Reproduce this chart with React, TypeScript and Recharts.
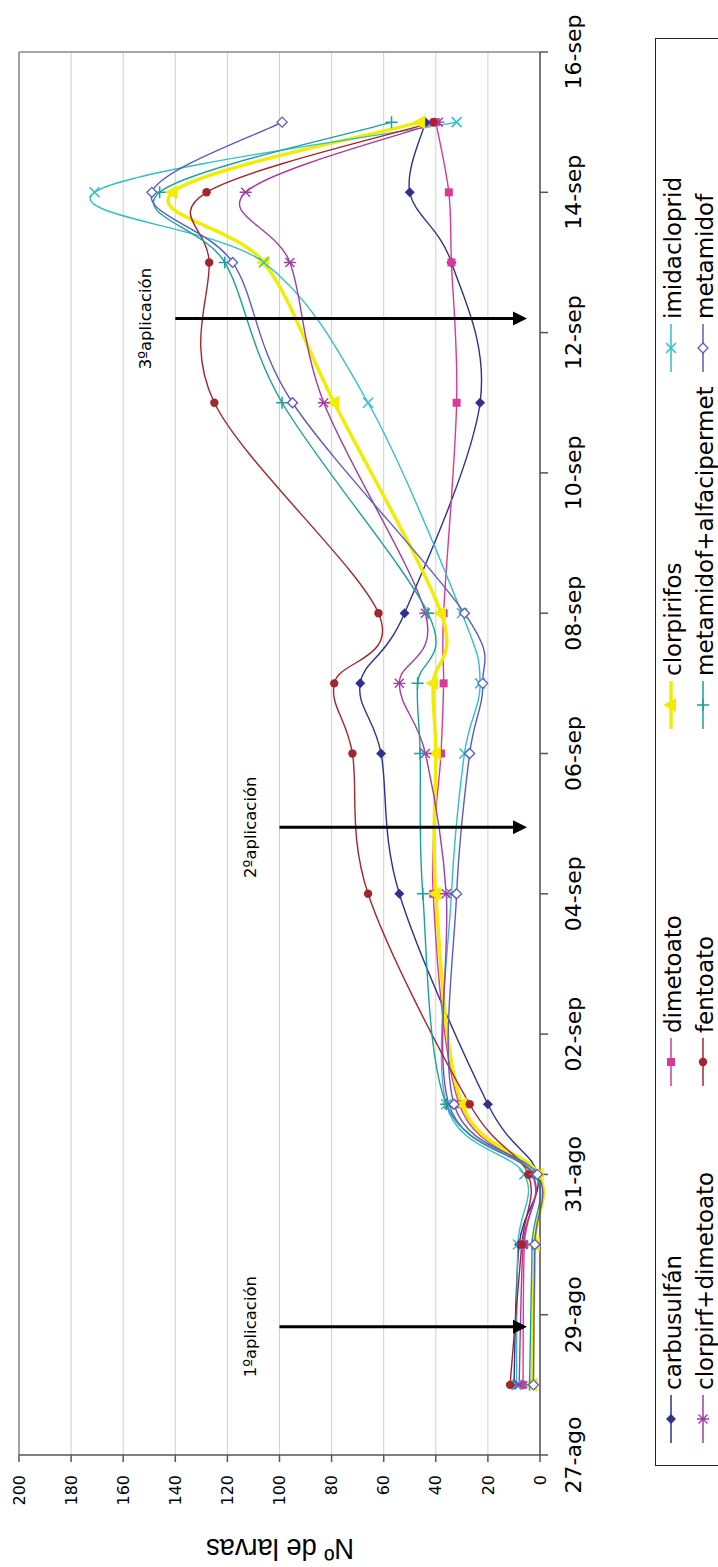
import { CartesianGrid, Legend, Line, LineChart, ReferenceLine, XAxis, YAxis } from "recharts"

// días desde el 27-ago
const DAYS = [1, 3, 4, 5, 8, 10, 11, 12, 15, 17, 18, 19]
const DATE_TICKS = ["27-ago", "29-ago", "31-ago", "02-sep", "04-sep", "06-sep", "08-sep", "10-sep", "12-sep", "14-sep", "16-sep"]
const VALUE_TICKS = [0, 20, 40, 60, 80, 100, 120, 140, 160, 180, 200]

const SERIES_NAMES = [
  "carbusulfán",
  "dimetoato",
  "clorpirifos",
  "imidacloprid",
  "clorpirf+dimetoato",
  "fentoato",
  "metamidof+alfacipermet",
  "metamidof",
]
const SERIES_COLORS = ["#2E3192", "#D9399A", "#F2EC00", "#2FBFCF", "#A33AA8", "#A4262C", "#16A2A0", "#5B5BC4"]
const SERIES_MARKERS = ["diamond", "square", "triangle", "cross", "star", "circle", "plus", "openDiamond"]

const carbusulfan = [10, 8, 1, 20, 54, 61, 69, 52, 23, 34, 50, 44]
const dimetoato = [6.5, 6, 3, 31, 41, 38, 37, 37, 32, 34, 35, 40]
const clorpirifos = [3, 2, 0.5, 30, 40, 40, 41, 38, 79, 106, 141, 46]
const imidacloprid = [9, 8.5, 6, 36, 34, 29, 23, 30, 66, 106, 171, 32]
const clorpirfDimetoato = [8, 6.5, 3, 35, 36, 44, 54, 44, 83, 96, 113, 39]
const fentoato = [11.5, 7, 4.5, 27, 66, 72, 79, 62, 125, 127, 128, 41]
const metamidofAlfa = [4, 3, 2, 36, 45, 46, 47, 43, 99, 121, 146, 57]
const metamidof = [2.5, 2, 1, 33, 32, 27, 22, 29, 95, 118, 149, 99]

const SERIES_VALUES = [carbusulfan, dimetoato, clorpirifos, imidacloprid, clorpirfDimetoato, fentoato, metamidofAlfa, metamidof]

const APPLICATIONS = ["1ºaplicación", "2ºaplicación", "3ºaplicación"]
const APPLICATION_DAYS = [1.83, 8.95, 16.2]
const APPLICATION_FROM = [100, 100, 140]
const APPLICATION_TO = 5

const FONT = "'DejaVu Sans', Verdana, sans-serif"

const data = DAYS.map((day, i) => {
  const row: Record<string, number> = { day }
  SERIES_VALUES.forEach((values, s) => {
    row[`s${s}`] = values[i]
  })
  return row
})

// suavizado tipo Excel (bezier tipo Catmull-Rom)
function excelSmooth(context: any) {
  let pts: number[][] = []
  return {
    areaStart() {},
    areaEnd() {},
    lineStart() {
      pts = []
    },
    point(x: number, y: number) {
      pts.push([+x, +y])
    },
    lineEnd() {
      const n = pts.length
      if (!n) return
      context.moveTo(pts[0][0], pts[0][1])
      for (let i = 0; i < n - 1; i++) {
        const p0 = pts[Math.max(i - 1, 0)]
        const p1 = pts[i]
        const p2 = pts[i + 1]
        const p3 = pts[Math.min(i + 2, n - 1)]
        context.bezierCurveTo(
          p1[0] + (p2[0] - p0[0]) / 6,
          p1[1] + (p2[1] - p0[1]) / 6,
          p2[0] - (p3[0] - p1[0]) / 6,
          p2[1] - (p3[1] - p1[1]) / 6,
          p2[0],
          p2[1]
        )
      }
    },
  }
}

function marker(kind: string, color: string, x: number, y: number, key?: string) {
  switch (kind) {
    case "diamond":
      return <path key={key} d={`M${x},${y - 5}L${x + 5},${y}L${x},${y + 5}L${x - 5},${y}Z`} fill={color} />
    case "openDiamond":
      return (
        <path key={key} d={`M${x},${y - 5}L${x + 5},${y}L${x},${y + 5}L${x - 5},${y}Z`} fill="#fff" stroke={color} strokeWidth={1.3} />
      )
    case "square":
      return <rect key={key} x={x - 4} y={y - 4} width={8} height={8} fill={color} />
    case "triangle":
      return <path key={key} d={`M${x},${y - 8}L${x + 7},${y + 5}L${x - 7},${y + 5}Z`} fill={color} />
    case "cross":
      return (
        <path key={key} d={`M${x - 5},${y - 5}L${x + 5},${y + 5}M${x + 5},${y - 5}L${x - 5},${y + 5}`} stroke={color} strokeWidth={1.5} fill="none" />
      )
    case "star":
      return (
        <path
          key={key}
          d={`M${x - 4.5},${y - 4.5}L${x + 4.5},${y + 4.5}M${x + 4.5},${y - 4.5}L${x - 4.5},${y + 4.5}M${x},${y - 6}L${x},${y + 6}`}
          stroke={color}
          strokeWidth={1.4}
          fill="none"
        />
      )
    case "circle":
      return <circle key={key} cx={x} cy={y} r={4.2} fill={color} />
    case "plus":
      return <path key={key} d={`M${x - 6},${y}L${x + 6},${y}M${x},${y - 6}L${x},${y + 6}`} stroke={color} strokeWidth={1.5} fill="none" />
    default:
      return <g key={key} />
  }
}

function ArrowShape(props: any) {
  const { x1, y1, x2, y2, label } = props
  return (
    <g>
      <line x1={x1} y1={y1} x2={x2} y2={y2 - 12} stroke="#000" strokeWidth={3} />
      <path d={`M${x2},${y2}L${x2 + 7},${y2 - 14}L${x2 - 7},${y2 - 14}Z`} fill="#000" />
      <text x={x1} y={y1 - 24} textAnchor="middle" fontFamily={FONT} fontSize={16.5} fill="#000">
        {label}
      </text>
    </g>
  )
}

function LegendBox() {
  return (
    <div
      style={{
        position: "relative",
        width: 1428,
        height: 90,
        border: "1.5px solid #222",
        boxSizing: "border-box",
        background: "#fff",
      }}
    >
      {SERIES_NAMES.map((name, i) => {
        const col = i % 4
        const row = Math.floor(i / 4)
        return (
          <svg
            key={name}
            width={350}
            height={32}
            style={{ position: "absolute", left: 22 + col * 357, top: -1.5 + row * 32, overflow: "visible" }}
          >
            <line x1={0} y1={16} x2={48} y2={16} stroke={SERIES_COLORS[i]} strokeWidth={i === 2 ? 3.5 : 1.5} />
            {marker(SERIES_MARKERS[i], SERIES_COLORS[i], 24, 16)}
            <text x={53} y={26} fontFamily={FONT} fontSize={23} fill="#000">
              {name}
            </text>
          </svg>
        )
      })}
    </div>
  )
}

function YTitle() {
  return (
    <text
      x={28}
      y={280}
      transform="rotate(-90, 28, 280)"
      textAnchor="middle"
      fontFamily="'Liberation Sans', Arial, sans-serif"
      fontSize={30}
      textLength={148}
      lengthAdjust="spacingAndGlyphs"
      fill="#000"
    >
      Nº de larvas
    </text>
  )
}

export default function App() {
  return (
    <div style={{ position: "absolute", left: 0, top: 0, width: 718, height: 1567, overflow: "hidden", background: "#fff" }}>
      <div
        style={{
          position: "absolute",
          left: 0,
          top: 0,
          width: 1567,
          height: 718,
          transformOrigin: "0 0",
          transform: "translate(0px, 1567px) rotate(-90deg)",
        }}
      >
        <LineChart width={1567} height={718} data={data} margin={{ top: 19, right: 52, left: 0, bottom: 0 }}>
          <CartesianGrid vertical={false} stroke="#cfcfcf" />
          <XAxis
            dataKey="day"
            type="number"
            domain={[0, 20]}
            ticks={DATE_TICKS.map((_, i) => i * 2)}
            tickFormatter={(v: number) => DATE_TICKS[Math.round(v / 2)]}
            interval={0}
            height={178}
            tickSize={8}
            tickMargin={17}
            stroke="#555"
            strokeWidth={1.5}
            tick={{ fontSize: 22, fontFamily: FONT, fill: "#000" }}
          />
          <YAxis
            type="number"
            domain={[0, 200]}
            ticks={VALUE_TICKS}
            interval={0}
            width={112}
            tickSize={7}
            tickMargin={13}
            stroke="#555"
            strokeWidth={1.5}
            tick={{ fontSize: 16, fontFamily: FONT, fill: "#000" }}
            label={{ content: <YTitle /> }}
          />
          <ReferenceLine y={200} stroke="#8a8a8a" strokeWidth={1.5} />
          <ReferenceLine x={20} stroke="#8a8a8a" strokeWidth={1.5} />
          <Legend
            layout="horizontal"
            verticalAlign="middle"
            align="center"
            wrapperStyle={{ left: 101, top: 655, width: 1428, height: 90 }}
            content={() => <LegendBox />}
          />
          {SERIES_NAMES.map((name, s) => (
            <Line
              key={name}
              name={name}
              dataKey={`s${s}`}
              type={excelSmooth as any}
              stroke={SERIES_COLORS[s]}
              strokeWidth={s === 2 ? 3.5 : 1.4}
              dot={(p: any) => marker(SERIES_MARKERS[s], SERIES_COLORS[s], p.cx, p.cy, `${name}-${p.index}`)}
              activeDot={false}
              isAnimationActive={false}
            />
          ))}
          {APPLICATIONS.map((label, i) => (
            <ReferenceLine
              key={label}
              segment={[
                { x: APPLICATION_DAYS[i], y: APPLICATION_FROM[i] },
                { x: APPLICATION_DAYS[i], y: APPLICATION_TO },
              ]}
              stroke="#000"
              strokeWidth={3}
              shape={(p: any) => <ArrowShape {...p} label={label} />}
            />
          ))}
        </LineChart>
      </div>
    </div>
  )
}
